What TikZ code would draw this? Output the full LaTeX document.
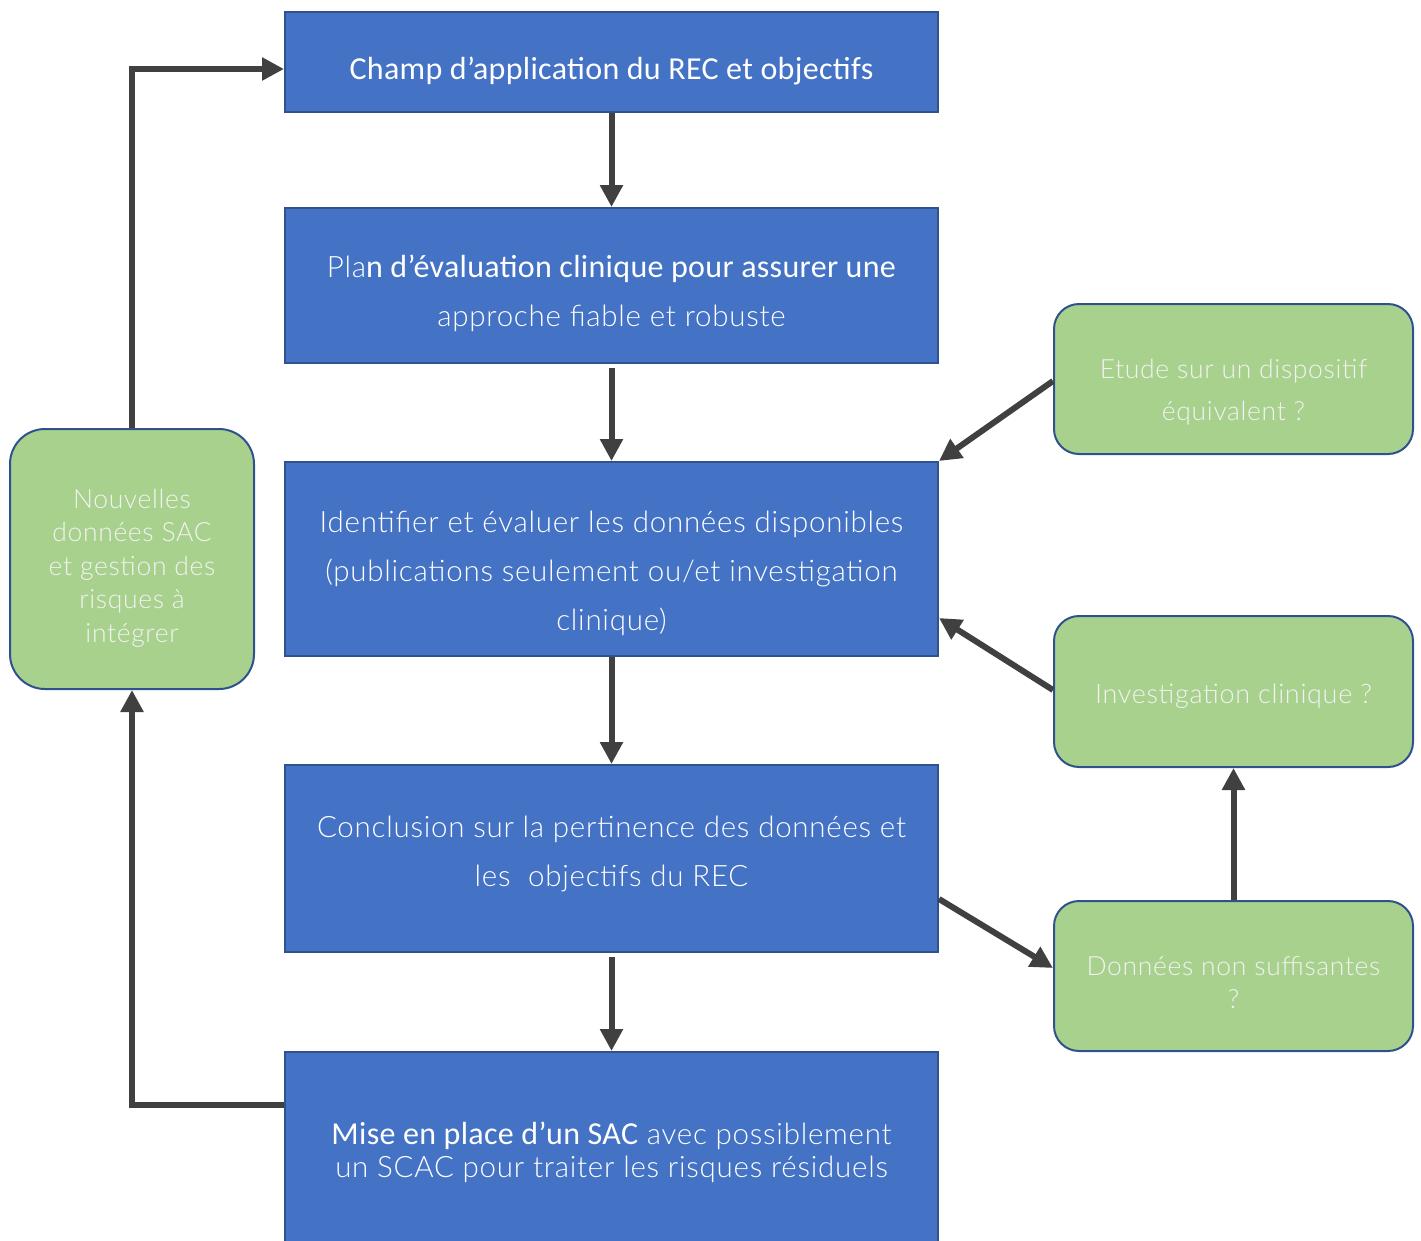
\documentclass[tikz,border=0pt]{standalone}
\usepackage{fontspec}
\setmainfont{Lato}
\newfontfamily\lightf{Lato Light}[LetterSpace=2.5]
\newfontfamily\regf{Carlito}[LetterSpace=1]
\usetikzlibrary{arrows.meta}
\definecolor{bluefill}{HTML}{4472C4}
\definecolor{blueline}{HTML}{2F528F}
\definecolor{greenfill}{HTML}{A9D18E}
\definecolor{arrowc}{HTML}{404040}
\definecolor{greentext}{HTML}{F2F2F2}
% #1 = downward shift, #2 = width, #3 = lines
\newcommand{\txtdn}[3]{\raisebox{-#1}[\height][\depth]{\parbox{#2}{\centering #3}}}
\newcommand{\rg}{\regf\fontsize{32}{49}\selectfont}
\begin{document}
\begin{tikzpicture}[x=1pt,y=-1pt,
  bbox/.style={draw=blueline, line width=2pt, fill=bluefill, minimum width=653pt,
    text=white, align=center, inner sep=0pt, anchor=north west,
    font=\lightf\fontsize{29.5}{49}\selectfont},
  gbox/.style={draw=blueline, line width=2pt, fill=greenfill, rounded corners=25pt,
    text=greentext, align=center, inner sep=0pt, anchor=north west,
    minimum width=359pt, minimum height=150pt,
    font=\lightf\fontsize{26.5}{42}\selectfont},
  flow/.style={draw=arrowc, line width=6pt, -{Triangle[length=22pt,width=22pt]}}]
\useasboundingbox (0,0) rectangle (1421,1240);
\clip (0,0) rectangle (1421,1240);

\node[bbox, minimum height=100pt] (b1) at (284,11)
  {\txtdn{9pt}{640pt}{\rg Champ d’application du REC et objectifs}};
\node[bbox, minimum height=155pt] (b2) at (284,207)
  {\txtdn{8pt}{640pt}{Pla{\rg n d’évaluation clinique pour assurer une}\\approche fiable et robuste}};
\node[bbox, minimum height=194pt] (b3) at (284,461)
  {\txtdn{14pt}{640pt}{Identifier et évaluer les données disponibles\\(publications seulement ou/et investigation\\clinique)}};
\node[bbox, minimum height=187pt] (b4) at (284,764)
  {\txtdn{-5pt}{640pt}{Conclusion sur la pertinence des données et\\les\ \ objectifs du REC}};
\node[bbox, minimum height=200pt, font=\lightf\fontsize{29.5}{33}\selectfont] (b5) at (284,1051)
  {\txtdn{0pt}{640pt}{{\regf\fontsize{32}{33}\selectfont Mise en place d’un SAC} avec possiblement\\un SCAC pour traiter les risques résiduels}};

\node[gbox] (g1) at (1053,303)
  {\txtdn{13pt}{350pt}{Etude sur un dispositif\\équivalent ?}};
\node[gbox, minimum height=151pt, font=\lightf\fontsize{27}{42}\selectfont] (g2) at (1053,615)
  {\txtdn{5pt}{350pt}{Investigation clinique ?}};
\node[gbox, font=\lightf\fontsize{26.5}{33}\selectfont] (g3) at (1053,900)
  {\txtdn{7pt}{350pt}{Données non suffisantes\\?}};
\node[gbox, minimum width=244pt, minimum height=260pt, rounded corners=35pt, font=\lightf\fontsize{26.5}{33.5}\selectfont] (g4) at (9,428)
  {\txtdn{9pt}{236pt}{Nouvelles\\données SAC\\et gestion des\\risques à\\intégrer}};

\draw[flow] (b1.south) -- (b2.north);
\draw[flow] ([yshift=-4pt]b2.south) -- (b3.north);
\draw[flow] (b3.south) -- (b4.north);
\draw[flow] ([yshift=-4pt]b4.south) -- (b5.north);
\draw[flow] (g1.west |- 0,381) -- (b3.north east);
\draw[flow] (g2.west |- 0,690) -- (b3.east |- 0,618);
\draw[flow] (b4.east |- 0,899) -- (g3.west |- 0,968);
\draw[flow] (g3.north) -- (g2.south);
\draw[flow] (b5.west |- 0,1105) -- (g4.south |- 0,1105) -- (g4.south);
\draw[flow] (g4.north) -- (g4.north |- 0,69) -- (b1.west |- 0,69);
\end{tikzpicture}
\end{document}
